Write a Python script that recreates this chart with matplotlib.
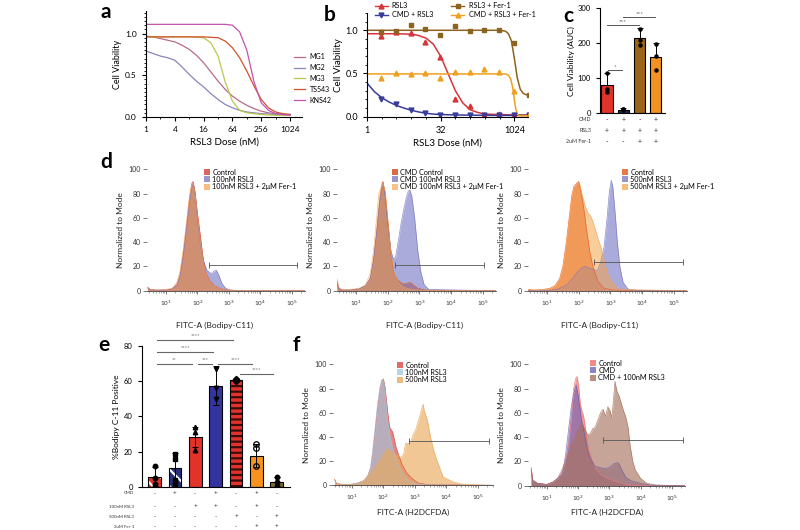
import numpy as np
import matplotlib
matplotlib.use("Agg")
import matplotlib.pyplot as plt
from matplotlib.patches import Patch
from matplotlib.lines import Line2D
from matplotlib.ticker import MultipleLocator, FixedLocator, LogLocator, NullFormatter

plt.rcParams['font.family'] = ['Lato', 'DejaVu Sans']
plt.rcParams['hatch.linewidth'] = 1.6

W, H = 800, 530

# -----------------------------
# panel a - dose response per cell line (log2 dose, viability)
# -----------------------------
a_lx = [0, 0.5, 1, 1.5, 2, 2.5, 3, 3.5, 4, 4.5, 5, 5.5, 6, 6.5, 7, 7.5, 8, 8.5, 9, 9.5, 10]
a_names = ["MG1", "MG2", "MG3", "TS543", "KNS42"]
a_colors = ["#b86a8c", "#8a84b8", "#b9c84c", "#d0502c", "#c052b4"]
a_mg1 = [0.97, 0.96, 0.94, 0.92, 0.90, 0.86, 0.81, 0.74, 0.65, 0.54, 0.43, 0.33, 0.25, 0.19, 0.14, 0.10, 0.07, 0.05, 0.04, 0.03, 0.03]
a_mg2 = [0.79, 0.76, 0.73, 0.71, 0.68, 0.60, 0.51, 0.43, 0.36, 0.28, 0.21, 0.15, 0.11, 0.08, 0.06, 0.05, 0.04, 0.035, 0.03, 0.03, 0.03]
a_mg3 = [0.96, 0.96, 0.96, 0.96, 0.96, 0.96, 0.96, 0.955, 0.95, 0.89, 0.73, 0.42, 0.19, 0.08, 0.05, 0.04, 0.03, 0.025, 0.02, 0.02, 0.02]
a_ts543 = [0.96, 0.96, 0.96, 0.96, 0.96, 0.96, 0.96, 0.96, 0.96, 0.955, 0.95, 0.91, 0.83, 0.71, 0.55, 0.37, 0.21, 0.11, 0.06, 0.04, 0.03]
a_kns42 = [1.11, 1.11, 1.11, 1.11, 1.11, 1.11, 1.11, 1.11, 1.11, 1.11, 1.11, 1.11, 1.10, 1.02, 0.80, 0.42, 0.17, 0.08, 0.04, 0.03, 0.02]

# -----------------------------
# panel b - RSL3 / CMD / Fer-1 dose response
# -----------------------------
b_dose = [1.95, 3.9, 7.8, 15.6, 31.25, 62.5, 125, 250, 500, 1000, 2000]
b_rsl3 = [0.93, 0.98, 0.97, 0.87, 0.69, 0.20, 0.12, 0.02, 0.03, 0.02, 0.02]
b_cmd = [0.21, 0.15, 0.08, 0.04, 0.02, 0.02, 0.02, 0.02, 0.02, 0.02, 0.02]
b_fer = [0.98, 0.99, 1.06, 1.02, 0.95, 1.05, 0.99, 1.00, 1.00, 0.85, 0.25]
b_cmdfer = [0.45, 0.51, 0.49, 0.51, 0.45, 0.52, 0.52, 0.55, 0.52, 0.30, 0.02]
b_fit_rsl3_lx = [0, 1, 2, 3, 3.5, 4, 4.5, 5, 5.5, 6, 6.5, 7, 7.5, 8, 9, 10, 11]
b_fit_rsl3 = [0.96, 0.96, 0.96, 0.955, 0.94, 0.91, 0.84, 0.70, 0.50, 0.30, 0.16, 0.08, 0.05, 0.03, 0.025, 0.02, 0.02]
b_fit_cmd_lx = [0, 0.5, 1, 1.5, 2, 2.5, 3, 3.5, 4, 4.5, 5, 6, 7, 8, 9, 10, 11]
b_fit_cmd = [0.39, 0.29, 0.22, 0.17, 0.13, 0.10, 0.075, 0.055, 0.04, 0.03, 0.025, 0.02, 0.018, 0.016, 0.015, 0.015, 0.015]
b_fit_fer_lx = [0, 9, 9.4, 9.6, 9.8, 10, 10.2, 10.4, 10.6, 10.8, 11]
b_fit_fer = [1.0, 1.0, 0.99, 0.96, 0.88, 0.68, 0.45, 0.32, 0.27, 0.255, 0.25]
b_fit_cmdfer_lx = [0, 9.4, 9.6, 9.75, 9.9, 10.0, 10.1, 10.2, 10.35, 11]
b_fit_cmdfer = [0.495, 0.495, 0.48, 0.44, 0.33, 0.2, 0.09, 0.03, 0.01, 0.01]

# -----------------------------
# panel c - AUC bars
# -----------------------------
c_means = [81, 10, 214, 161]
c_err = [33, 4, 29, 39]
c_points = [[114, 70, 60], [13, 11, 8], [241, 210, 195], [198, 163, 125]]
c_colors = ["#e2332a", "#1f2a55", "#9c6418", "#f39121"]
c_rows = ["CMD", "RSL3", "2uM Fer-1"]
c_signs = [["-", "+", "-", "+"], ["+", "+", "+", "+"], ["-", "-", "+", "+"]]
c_sig = [(0.05, 0.9, 124, "*"), (0.0, 1.95, 252, "***"), (1.0, 2.95, 276, "***")]

# -----------------------------
# panel d - Bodipy-C11 histograms (log10 FITC-A, % of mode)
# -----------------------------
d1_labels = ["Control", "100nM RSL3", "100nM RSL3 + 2\u03bcM Fer-1"]
d1_ctrl_x = [0.42, 0.5, 0.7, 1.0, 1.2, 1.35, 1.45, 1.55, 1.65, 1.75, 1.82, 1.86, 1.92, 2.0, 2.08, 2.18, 2.28, 2.4, 2.55, 2.75, 3.0, 3.5, 5.42]
d1_ctrl_y = [3, 1, 0.5, 0.5, 1.5, 5, 13, 30, 52, 76, 88, 90, 82, 64, 48, 27, 14, 8, 4, 1.5, 0.5, 0, 0]
d1_rsl_x = [0.42, 0.5, 0.7, 1.0, 1.2, 1.35, 1.45, 1.55, 1.65, 1.75, 1.82, 1.87, 1.93, 2.0, 2.1, 2.2, 2.3, 2.44, 2.53, 2.6, 2.68, 2.78, 2.9, 3.05, 3.5, 5.42]
d1_rsl_y = [2, 1, 0.5, 0.5, 1.5, 4, 11, 27, 49, 72, 85, 88, 80, 60, 38, 24, 17, 14, 16, 17, 13, 6, 2, 0.5, 0, 0]
d1_fer_x = [0.42, 0.5, 0.7, 1.0, 1.2, 1.35, 1.45, 1.55, 1.65, 1.75, 1.82, 1.87, 1.93, 2.0, 2.1, 2.2, 2.3, 2.45, 2.6, 2.8, 3.1, 5.42]
d1_fer_y = [2, 1, 0.5, 1, 2, 7, 16, 34, 56, 78, 87, 88, 80, 62, 40, 22, 12, 6, 3, 1, 0.3, 0]
d1_gate = [2.36, 5.15, 21]

d2_labels = ["CMD Control", "CMD 100nM RSL3", "CMD 100nM RSL3 + 2\u03bcM Fer-1"]
d2_ctrl_x = [0.4, 0.45, 0.55, 0.8, 1.1, 1.3, 1.45, 1.55, 1.65, 1.75, 1.82, 1.85, 1.92, 2.0, 2.1, 2.2, 2.3, 2.45, 2.6, 2.7, 2.8, 2.95, 3.2, 5.42]
d2_ctrl_y = [8, 2, 0.5, 0.5, 1.5, 4, 10, 25, 48, 75, 88, 90, 80, 58, 30, 14, 9, 6, 6, 7, 5, 2, 0.5, 0]
d2_rsl_x = [0.4, 0.45, 0.55, 0.8, 1.1, 1.3, 1.45, 1.55, 1.65, 1.75, 1.82, 1.86, 1.92, 2.0, 2.1, 2.18, 2.25, 2.33, 2.42, 2.5, 2.58, 2.65, 2.7, 2.76, 2.85, 2.95, 3.05, 3.15, 3.3, 5.42]
d2_rsl_y = [6, 2, 0.5, 0.5, 1.5, 4, 10, 24, 46, 72, 85, 87, 78, 55, 33, 26, 28, 40, 55, 66, 76, 82, 83, 78, 60, 33, 15, 5, 1, 0]
d2_fer_x = [0.4, 0.45, 0.55, 0.8, 1.1, 1.3, 1.45, 1.55, 1.65, 1.72, 1.8, 1.85, 1.92, 2.0, 2.1, 2.2, 2.3, 2.45, 2.6, 2.8, 3.1, 5.42]
d2_fer_y = [10, 3, 1, 1, 2, 5, 14, 32, 60, 80, 86, 88, 82, 60, 32, 15, 8, 4, 2, 1, 0.3, 0]
d2_gate = [2.22, 5.04, 21]

d3_labels = ["Control", "500nM RSL3", "500nM RSL3 + 2\u03bcM Fer-1"]
d3_ctrl_x = [0.4, 0.6, 0.9, 1.1, 1.25, 1.4, 1.5, 1.6, 1.7, 1.78, 1.85, 1.92, 2.0, 2.08, 2.15, 2.25, 2.35, 2.45, 2.6, 2.8, 3.1, 5.42]
d3_ctrl_y = [1, 0.5, 1, 2, 4, 10, 20, 38, 60, 78, 86, 88, 90, 80, 70, 50, 32, 20, 8, 2, 0.5, 0]
d3_rsl_x = [0.4, 1.0, 1.3, 1.5, 1.63, 1.8, 1.95, 2.1, 2.2, 2.3, 2.4, 2.5, 2.6, 2.7, 2.8, 2.9, 2.97, 3.03, 3.08, 3.16, 3.22, 3.3, 3.4, 3.55, 3.8, 5.42]
d3_rsl_y = [0, 0, 1, 3, 5, 10, 15, 19, 20, 19, 18, 17, 17, 24, 36, 61, 82, 91, 85, 61, 40, 20, 7, 1.5, 0.3, 0]
d3_fer_x = [0.4, 0.6, 0.9, 1.1, 1.25, 1.4, 1.5, 1.6, 1.7, 1.78, 1.85, 1.9, 1.95, 2.02, 2.1, 2.2, 2.3, 2.37, 2.45, 2.53, 2.62, 2.7, 2.8, 2.9, 3.0, 3.15, 3.3, 5.42]
d3_fer_y = [1, 0.5, 1, 2, 4, 9, 18, 35, 58, 75, 85, 80, 88, 89, 80, 70, 64, 62, 57, 50, 42, 36, 25, 15, 9, 4, 1, 0]
d3_gate = [2.47, 5.29, 24]

# -----------------------------
# panel e - %Bodipy positive bars
# -----------------------------
e_means = [5.7, 10.4, 28.2, 57.5, 60.6, 17.7, 2.5]
e_err = [5.5, 8.5, 5.8, 11, 0.6, 6.5, 3]
e_points = [[11.5, 5, 1.5], [18.5, 16, 4, 1], [34, 31, 21], [67, 56, 50], [61, 60.6, 60.2], [24, 22, 11.5], [5.5, 2.5, 0.5]]
e_markers = ["o", "s", "^", "v", "D", "o", "o"]
e_rows = ["CMD", "100nM RSL3", "500nM RSL3", "2uM Fer-1"]
e_signs = [["-", "+", "-", "+", "-", "+", "-"],
           ["-", "-", "+", "+", "-", "+", "-"],
           ["-", "-", "-", "-", "+", "-", "+"],
           ["-", "-", "-", "-", "-", "+", "+"]]
e_sig = [(0.11, 3.87, 83.3, "****"), (0.11, 2.89, 76.5, "****"), (0.11, 1.83, 69.9, "**"),
         (2.15, 2.81, 69.9, "***"), (3.13, 4.77, 69.9, "****"), (4.2, 5.83, 63.8, "****")]

# -----------------------------
# panel f - H2DCFDA histograms
# -----------------------------
f1_labels = ["Control", "100nM RSL3", "500nM RSL3"]
f1_ctrl_x = [0.45, 0.5, 0.6, 0.9, 1.2, 1.4, 1.5, 1.6, 1.66, 1.74, 1.82, 1.9, 1.95, 2.0, 2.05, 2.1, 2.15, 2.2, 2.25, 2.3, 2.4, 2.5, 2.6, 2.75, 2.9, 3.1, 3.4, 5.49]
f1_ctrl_y = [5, 2, 1, 0.5, 2, 4, 7, 15, 26, 45, 65, 80, 86, 88, 82, 70, 58, 48, 46, 44, 32, 24, 17, 10, 6, 2, 0.5, 0]
f1_r100_x = [0.45, 0.5, 0.6, 0.9, 1.2, 1.4, 1.5, 1.6, 1.66, 1.74, 1.82, 1.9, 1.95, 2.0, 2.05, 2.1, 2.15, 2.2, 2.3, 2.4, 2.5, 2.65, 2.8, 3.0, 3.3, 5.49]
f1_r100_y = [4, 2, 1, 0.5, 2, 4, 7, 15, 28, 48, 68, 82, 87, 88, 80, 66, 52, 42, 30, 22, 15, 8, 4, 1.5, 0.3, 0]
f1_r500_x = [0.45, 0.5, 0.6, 0.9, 1.19, 1.35, 1.5, 1.65, 1.82, 1.95, 2.05, 2.14, 2.25, 2.35, 2.45, 2.56, 2.65, 2.71, 2.8, 2.87, 2.95, 3.03, 3.1, 3.18, 3.24, 3.27, 3.3, 3.35, 3.4, 3.5, 3.6, 3.7, 3.8, 3.9, 4.05, 4.2, 4.5, 4.8, 5.49]
f1_r500_y = [5, 2, 1, 0.5, 1, 3, 8, 12, 18, 24, 28, 30, 28, 26, 25, 23, 26, 35, 34, 36, 42, 46, 52, 59, 65, 67, 62, 58, 54, 40, 29, 21, 14, 7, 5, 3, 1, 0.5, 0]
f1_gate = [2.81, 5.37, 37]

f2_labels = ["Control", "CMD", "CMD + 100nM RSL3"]
f2_ctrl_x = [0.5, 0.55, 0.7, 1.0, 1.2, 1.35, 1.5, 1.6, 1.71, 1.8, 1.86, 1.92, 1.97, 2.02, 2.07, 2.12, 2.18, 2.25, 2.33, 2.43, 2.54, 2.7, 2.85, 3.05, 3.27, 3.6, 5.42]
f2_ctrl_y = [15, 5, 2, 1, 3, 6, 10, 20, 35, 60, 80, 88, 90, 82, 68, 62, 57, 45, 30, 22, 15, 10, 7, 5, 3, 0.5, 0]
f2_cmd_x = [0.5, 0.55, 0.7, 1.0, 1.2, 1.35, 1.5, 1.6, 1.71, 1.78, 1.83, 1.9, 1.94, 2.0, 2.07, 2.12, 2.18, 2.25, 2.33, 2.43, 2.54, 2.7, 2.85, 3.0, 3.15, 3.25, 3.31, 3.4, 3.52, 3.7, 4.0, 4.3, 5.42]
f2_cmd_y = [12, 4, 2, 1, 3, 6, 10, 25, 49, 64, 72, 80, 83, 75, 62, 53, 46, 36, 27, 21, 16, 15, 14, 15, 18, 19, 18, 13, 7, 4, 2, 0.5, 0]
f2_rsl_x = [0.5, 0.55, 0.7, 1.0, 1.2, 1.35, 1.5, 1.65, 1.81, 1.95, 2.05, 2.13, 2.2, 2.3, 2.39, 2.47, 2.54, 2.62, 2.72, 2.8, 2.88, 2.95, 3.02, 3.08, 3.13, 3.18, 3.24, 3.31, 3.38, 3.45, 3.52, 3.6, 3.67, 3.75, 3.83, 4.0, 4.2, 4.5, 5.42]
f2_rsl_y = [14, 4, 2, 1, 3, 6, 14, 24, 35, 43, 49, 52, 47, 42, 43, 47, 48, 53, 60, 63, 57, 65, 62, 56, 70, 86, 78, 74, 68, 62, 57, 48, 32, 20, 13, 6, 2, 0.5, 0]
f2_gate = [2.8, 5.37, 38]


fig = plt.figure(figsize=(W / 100, H / 100), dpi=100)


def px_axes(l, t, r, b):
    return fig.add_axes([l / W, 1 - b / H, (r - l) / W, (b - t) / H])


def clean(ax):
    ax.spines["top"].set_visible(False)
    ax.spines["right"].set_visible(False)


def panel_letter(x, y, s):
    fig.text(x / W, 1 - y / H, s, fontsize=15, fontweight="bold", ha="center", va="center")


# ---- a ----
ax = px_axes(146, 11, 302, 117)
clean(ax)
for name, col, ys in zip(a_names, a_colors, [a_mg1, a_mg2, a_mg3, a_ts543, a_kns42]):
    ax.plot(2.0 ** np.array(a_lx), ys, color=col, lw=0.9, label=name)
ax.set_xscale("log", base=2)
ax.set_xlim(1, 2 ** 10.83)
ax.set_ylim(0, 1.27)
ax.set_xticks([1, 4, 16, 64, 256, 1024])
ax.set_xticklabels(["1", "4", "16", "64", "256", "1024"])
ax.xaxis.set_minor_locator(FixedLocator([2, 8, 32, 128, 512]))
ax.xaxis.set_minor_formatter(NullFormatter())
ax.set_yticks([0, 0.5, 1.0])
ax.set_yticklabels(["0.0", "0.5", "1.0"])
ax.yaxis.set_minor_locator(MultipleLocator(0.05))
ax.tick_params(labelsize=6, length=3, width=0.8)
ax.tick_params(which="minor", length=1.5, width=0.6)
ax.set_ylabel("Cell Viability", fontsize=6.5, labelpad=2)
ax.set_xlabel("RSL3 Dose (nM)", fontsize=7, labelpad=3)
ax.legend(loc="upper left", bbox_to_anchor=(288 / W, 1 - 47 / H), bbox_transform=fig.transFigure,
          frameon=False, fontsize=5, handlelength=1.6, labelspacing=0.55, handletextpad=0.6)
panel_letter(106, 12, "a")

# ---- b ----
ax = px_axes(367, 13, 528, 116.7)
clean(ax)
bx = np.array(b_dose)
ax.plot(2.0 ** np.array(b_fit_rsl3_lx), b_fit_rsl3, color="#d8343a", lw=1.1)
ax.plot(2.0 ** np.array(b_fit_cmd_lx), b_fit_cmd, color="#3a3c9a", lw=1.1)
ax.plot(2.0 ** np.array(b_fit_fer_lx), b_fit_fer, color="#8c6420", lw=1.1)
ax.plot(2.0 ** np.array(b_fit_cmdfer_lx), b_fit_cmdfer, color="#f0a020", lw=1.1)
ax.plot(bx, b_rsl3, "^", color="#d8343a", ms=3.5)
ax.plot(bx, b_cmd, "v", color="#3a3c9a", ms=3.5)
ax.plot(bx, b_fer, "s", color="#8c6420", ms=3.3)
ax.plot(bx, b_cmdfer, "^", color="#f0a020", ms=3.5)
ax.set_xscale("log", base=2)
ax.set_xlim(1, 2 ** 10.93)
ax.set_ylim(0, 1.2)
ax.set_xticks([1, 32, 1024])
ax.set_xticklabels(["1", "32", "1024"])
ax.xaxis.set_minor_locator(FixedLocator([2, 4, 8, 16, 64, 128, 256, 512, 2048]))
ax.xaxis.set_minor_formatter(NullFormatter())
ax.set_yticks([0, 0.5, 1.0])
ax.set_yticklabels(["0.0", "0.5", "1.0"])
ax.yaxis.set_minor_locator(MultipleLocator(0.1))
ax.tick_params(labelsize=6.5, length=3, width=0.8)
ax.tick_params(which="minor", length=1.5, width=0.6)
ax.set_ylabel("Cell Viability", fontsize=7, labelpad=2)
ax.set_xlabel("RSL3 Dose (nM)", fontsize=7, labelpad=3)
b_handles = [Line2D([], [], color="#d8343a", marker="^", ms=3.5, lw=1),
             Line2D([], [], color="#3a3c9a", marker="v", ms=3.5, lw=1),
             Line2D([], [], color="#8c6420", marker="s", ms=3.3, lw=1),
             Line2D([], [], color="#f0a020", marker="^", ms=3.5, lw=1)]
fig.legend(b_handles, ["RSL3", "CMD + RSL3", "RSL3 + Fer-1", "CMD + RSL3 + Fer-1"], ncol=2,
           loc="upper left", bbox_to_anchor=(368 / W, 1 + 4 / H), frameon=False, fontsize=5.2,
           handlelength=1.8, labelspacing=0.25, columnspacing=2.5, handletextpad=0.6)
panel_letter(330, 15, "b")

# ---- c ----
ax = px_axes(600, 8.3, 665, 113.3)
clean(ax)
cx = np.arange(len(c_means))
ax.bar(cx, c_means, width=0.68, color=c_colors, edgecolor="black", linewidth=0.8, zorder=2)
ax.errorbar(cx, c_means, yerr=[np.zeros(4), c_err], fmt="none", ecolor="black", elinewidth=0.7,
            capsize=2, capthick=0.7, zorder=3)
for i, pts in enumerate(c_points):
    ax.plot([i] * len(pts), pts, "o", color="black", ms=2.2, zorder=4)
ax.set_xlim(-0.43, 3.56)
ax.set_ylim(0, 300)
ax.set_yticks([0, 100, 200, 300])
ax.set_xticks([])
ax.tick_params(labelsize=5.5, length=3, width=0.8)
ax.set_ylabel("Cell Viability (AUC)", fontsize=6, labelpad=2)
for (x0, x1, y, s) in c_sig:
    ax.plot([x0, x1], [y, y], color="#555555", lw=0.7, clip_on=False)
    ax.text((x0 + x1) / 2, y + 2, s, ha="center", va="bottom", fontsize=4.5, color="#555555")
for r, (lab, row) in enumerate(zip(c_rows, c_signs)):
    ypx = 119.5 + r * 11.2
    fig.text(591 / W, 1 - ypx / H, lab, fontsize=3.8, ha="right", va="center", color="#333333")
    for i, s in enumerate(row):
        ax.text(i, -(ypx - 113.3) / 105.0, s, transform=ax.get_xaxis_transform(), fontsize=5,
                ha="center", va="center", color="#333333")
panel_letter(568, 16, "c")

# ---- histogram helper ----
def hist_panel(box, curves, labels, gate, xmax, leg_xy, xlab, xlab_x, xlab_y):
    ax = px_axes(*box)
    for (lx, ly, col, a) in curves:
        xv = 10.0 ** np.array(lx)
        ax.fill_between(xv, 0, ly, color=col, alpha=a, lw=0)
        ax.plot(xv, ly, color=col, lw=0.5, alpha=min(1, a + 0.2))
    ax.set_xscale("log")
    ax.set_xlim(10 ** 0.4, 10 ** xmax)
    ax.set_ylim(0, 100)
    ax.spines["top"].set_visible(False)
    ax.spines["right"].set_visible(False)
    ax.spines["left"].set_visible(False)
    ax.spines["bottom"].set_color("#444444")
    ax.spines["bottom"].set_linewidth(0.6)
    ax.set_xticks([1e1, 1e2, 1e3, 1e4, 1e5])
    ax.set_xticklabels(["10$^1$", "10$^2$", "10$^3$", "10$^4$", "10$^5$"])
    ax.xaxis.set_minor_locator(LogLocator(base=10, subs=np.arange(2, 10)))
    ax.xaxis.set_minor_formatter(NullFormatter())
    ax.set_yticks([0, 20, 40, 60, 80, 100])
    ax.tick_params(axis="y", labelsize=5, length=3, width=0.5, color="#444444", labelcolor="#333333", pad=1.5)
    ax.tick_params(axis="x", labelsize=4.5, length=2.5, width=0.5, color="#444444", labelcolor="#333333", pad=3)
    ax.tick_params(axis="x", which="minor", length=1.5, width=0.4, color="#666666")
    ax.set_ylabel("Normalized to Mode", fontsize=6, labelpad=3, color="#222222")
    g0, g1, gy = gate
    ax.plot([10 ** g0, 10 ** g1], [gy, gy], color="#555555", lw=0.6, marker="|", ms=4, mew=0.6)
    handles = [Patch(facecolor=c[2], alpha=min(1, c[3] + 0.15), edgecolor="none") for c in curves]
    ax.legend(handles, labels, loc="upper left", bbox_to_anchor=(leg_xy[0] / W, 1 - leg_xy[1] / H),
              bbox_transform=fig.transFigure, frameon=False, fontsize=5.2, handlelength=0.9,
              handleheight=0.9, labelspacing=0.05, handletextpad=0.3, borderpad=0)
    fig.text(xlab_x / W, 1 - xlab_y / H, xlab, fontsize=6, ha="center", va="center", color="#222222")
    return ax


RED = "#d9534f"
BLUE = "#7474c4"
ORNG = "#f5a24a"

hist_panel((147, 169.3, 305, 290.7),
           [(d1_ctrl_x, d1_ctrl_y, RED, 0.75), (d1_rsl_x, d1_rsl_y, BLUE, 0.6), (d1_fer_x, d1_fer_y, ORNG, 0.55)],
           d1_labels, d1_gate, 5.42, (200, 165), "FITC-A (Bodipy-C11)", 215, 325)
hist_panel((337, 169.3, 496, 290.7),
           [(d2_ctrl_x, d2_ctrl_y, "#d8643a", 0.8), (d2_rsl_x, d2_rsl_y, BLUE, 0.6), (d2_fer_x, d2_fer_y, ORNG, 0.5)],
           d2_labels, d2_gate, 5.42, (388, 165), "FITC-A (Bodipy-C11)", 425, 325)
hist_panel((528, 169.3, 687, 290.7),
           [(d3_ctrl_x, d3_ctrl_y, "#e8602e", 0.7), (d3_rsl_x, d3_rsl_y, BLUE, 0.6), (d3_fer_x, d3_fer_y, ORNG, 0.55)],
           d3_labels, d3_gate, 5.42, (618, 165), "FITC-A (Bodipy-C11)", 600, 325)
panel_letter(106, 162, "d")

# ---- e ----
ax = px_axes(141.7, 346, 290, 486.7)
clean(ax)
ex = np.arange(len(e_means))
e_face = ["#e2332a", "#2a2f7a", "#e2332a", "#3434a0", "#e2332a", "#f7931e", "#7c6a34"]
e_hatch = ["\\\\", "\\\\", None, None, "---", None, None]
e_hcol = ["white", "white", "none", "none", "#3a0c0c", "none", "none"]
for i in ex:
    ax.bar(i, e_means[i], width=0.62, color=e_face[i], hatch=e_hatch[i], edgecolor=e_hcol[i], linewidth=0, zorder=2)
    ax.bar(i, e_means[i], width=0.62, fill=False, edgecolor="black", linewidth=0.8, zorder=3)
ax.errorbar(ex, e_means, yerr=e_err, fmt="none", ecolor="black", elinewidth=0.7, capsize=2, capthick=0.7, zorder=4)
for i, pts in enumerate(e_points):
    if i == 5:
        ax.plot([i] * len(pts), pts, e_markers[i], mfc="none", mec="black", mew=0.9, ms=4, zorder=5)
    else:
        ax.plot([i] * len(pts), pts, e_markers[i], color="black", ms=3.2, zorder=5)
ax.set_xlim(-0.63, 6.65)
ax.set_ylim(0, 80)
ax.set_yticks([0, 20, 40, 60, 80])
ax.set_xticks([])
ax.tick_params(labelsize=5.5, length=3, width=0.8)
ax.set_ylabel("%Bodipy C-11 Positive", fontsize=6, labelpad=3)
for (x0, x1, y, s) in e_sig:
    ax.plot([x0, x1], [y, y], color="#666666", lw=0.8, clip_on=False)
    ax.text((x0 + x1) / 2, y + 1.2, s, ha="center", va="bottom", fontsize=4, color="#666666")
for r, (lab, row) in enumerate(zip(e_rows, e_signs)):
    ypx = [493.3, 506.7, 516.7, 526.7][r]
    fig.text(134 / W, 1 - ypx / H, lab, fontsize=3.2, ha="right", va="center", color="#333333")
    for i, s in enumerate(row):
        ax.text(i, -(ypx - 486.7) / 140.7, s, transform=ax.get_xaxis_transform(), fontsize=4.5,
                ha="center", va="center", color="#333333")
panel_letter(104, 345, "e")

# ---- f ----
hist_panel((333, 364.3, 493, 485.3),
           [(f1_ctrl_x, f1_ctrl_y, RED, 0.7), (f1_r100_x, f1_r100_y, "#9cc8e2", 0.6), (f1_r500_x, f1_r500_y, "#e9a95c", 0.65)],
           f1_labels, f1_gate, 5.49, (393, 358), "FITC-A (H2DCFDA)", 413, 512)
hist_panel((528, 364.3, 685, 485.7),
           [(f2_ctrl_x, f2_ctrl_y, "#f07676", 0.7), (f2_cmd_x, f2_cmd_y, "#6a5cb0", 0.6), (f2_rsl_x, f2_rsl_y, "#a87460", 0.65)],
           f2_labels, f2_gate, 5.42, (586, 356), "FITC-A (H2DCFDA)", 607, 512)
panel_letter(296, 345, "f")

fig.savefig("out.png", dpi=100)
